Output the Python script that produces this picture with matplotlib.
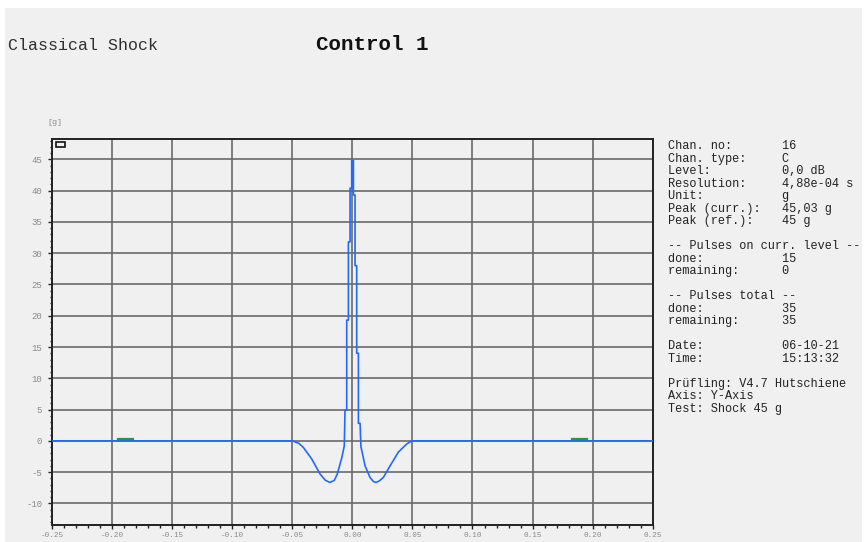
import numpy as np
import matplotlib
matplotlib.use("Agg")
import matplotlib.pyplot as plt
from matplotlib.patches import Rectangle
from matplotlib.ticker import MultipleLocator

# measured signal (time in s, acceleration in g), read off the screen plot
# slow parts (baseline and the two negative lobes)
t_left = [-0.25, -0.0499, -0.0445, -0.0408, -0.0338, -0.0269, -0.0225, -0.0186,
          -0.0150, -0.0125, -0.0088, -0.0067]
g_left = [0.0, 0.0, -0.4, -1.05, -2.9, -5.3, -6.3, -6.65, -6.3, -5.3, -2.7, -0.8]
t_right = [0.0071, 0.0106, 0.0147, 0.0175, 0.0197, 0.0225, 0.0258, 0.0314, 0.0383,
           0.0453, 0.0494, 0.25]
g_right = [-0.9, -4.0, -5.85, -6.5, -6.65, -6.4, -5.85, -4.0, -1.8, -0.5, 0.0, 0.0]
# the sampled shock pulse itself (drawn sample-and-hold)
t_pulse = [-0.00541, -0.00399, -0.00258, -0.00125, 0.00017, 0.00158, 0.00291, 0.00433, 0.00574]
g_pulse = [4.9, 19.3, 31.8, 40.4, 44.8, 39.3, 28.0, 14.0, 2.8]

# reference signal (green): small offsets on the baseline that peek out
t_ref_a = [-0.195, -0.1825]
t_ref_b = [0.1825, 0.195]
g_ref_off = [0.3, 0.3]

x_ticks = [-0.25, -0.20, -0.15, -0.10, -0.05, 0.00, 0.05, 0.10, 0.15, 0.20, 0.25]
y_ticks = [-10, -5, 0, 5, 10, 15, 20, 25, 30, 35, 40, 45]

info_lines = [
    "Chan. no:       16",
    "Chan. type:     C",
    "Level:          0,0 dB",
    "Resolution:     4,88e-04 s",
    "Unit:           g",
    "Peak (curr.):   45,03 g",
    "Peak (ref.):    45 g",
    "",
    "-- Pulses on curr. level --",
    "done:           15",
    "remaining:      0",
    "",
    "-- Pulses total --",
    "done:           35",
    "remaining:      35",
    "",
    "Date:           06-10-21",
    "Time:           15:13:32",
    "",
    "Prüfling: V4.7 Hutschiene",
    "Axis: Y-Axis",
    "Test: Shock 45 g",
]

W, H = 865, 542
MONO = "Liberation Mono"
BG = "#f0f0f0"


def sample_hold(t, g):
    t = np.asarray(t)
    g = np.asarray(g)
    half = (t[1] - t[0]) / 2
    edges = np.concatenate([[t[0] - half], (t[:-1] + t[1:]) / 2, [t[-1] + half]])
    return np.repeat(edges, 2)[1:-1], np.repeat(g, 2)


ps_t, ps_g = sample_hold(t_pulse, g_pulse)
meas_t = np.concatenate([t_left, ps_t, t_right])
meas_g = np.concatenate([g_left, ps_g, g_right])

fig = plt.figure(figsize=(W / 100, H / 100), dpi=100)
fig.patch.set_facecolor("white")
fig.add_artist(Rectangle((5 / W, 0), (862 - 5) / W, (H - 8) / H,
                         transform=fig.transFigure, facecolor=BG,
                         edgecolor="none", zorder=-10))

ax = fig.add_axes([52 / W, 1 - 525.3 / H, (652.7 - 52) / W, (525.3 - 139) / H])
ax.set_facecolor(BG)

green = "#22a022"
ax.plot(t_ref_a, g_ref_off, color=green, lw=1.6, zorder=3)
ax.plot(t_ref_b, g_ref_off, color=green, lw=1.6, zorder=3)
ax.plot(meas_t, meas_g, color="#2468ff", lw=1.2, zorder=4)

ax.set_xlim(-0.25, 0.25)
ax.set_ylim(-13.5, 48.25)
ax.set_xticks(x_ticks)
ax.set_xticklabels([f"{v:.2f}" for v in x_ticks])
ax.set_yticks(y_ticks)
ax.set_yticklabels([str(v) for v in y_ticks])
ax.xaxis.set_minor_locator(MultipleLocator(0.01))
ax.yaxis.set_minor_locator(MultipleLocator(1))

ax.grid(True, which="major", color="#6a6a6a", lw=1.2, zorder=1)
ax.set_axisbelow(True)
for s in ax.spines.values():
    s.set_color("#222222")
    s.set_linewidth(1.4)

ax.tick_params(which="major", direction="out", length=3, width=1.0, color="#222222",
               labelsize=6.5, labelcolor="#8a8a8a", pad=4)
ax.tick_params(which="minor", direction="out", length=1.8, width=1.0, color="#222222")
ax.tick_params(axis="x", which="major", labelsize=5.5, pad=2)
for lab in ax.get_xticklabels() + ax.get_yticklabels():
    lab.set_family(MONO)

# small marker box in the corner of the plot
ax.add_patch(Rectangle((0.0067, 0.9793), 0.015, 0.0121, transform=ax.transAxes,
                       facecolor="none", edgecolor="#111111", lw=1.2, zorder=5))

fig.text(47 / W, 1 - 123 / H, "[g]", family=MONO, fontsize=6, color="#8a8a8a",
         ha="left", va="center")

fig.text(8 / W, 1 - 46 / H, "Classical Shock", family=MONO, fontsize=12,
         color="#303030", ha="left", va="center")
fig.text(316 / W, 1 - 45 / H, "Control 1", family=MONO, fontsize=15,
         fontweight="bold", color="#111111", ha="left", va="center")

for i, line in enumerate(info_lines):
    if line:
        fig.text(668 / W, 1 - (146 + i * 12.52) / H, line, family=MONO,
                 fontsize=8.6, color="#222222", ha="left", va="center")

fig.savefig("out.png", dpi=100, facecolor=fig.get_facecolor())
